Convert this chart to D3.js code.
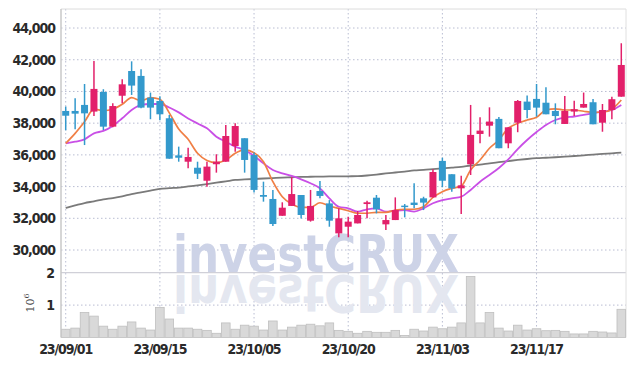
<!DOCTYPE html>
<html><head><meta charset="utf-8">
<script src="https://cdn.jsdelivr.net/npm/d3@7"></script>
<style>body{margin:0;background:#fff}svg{display:block}</style>
</head><body><svg id="c" width="634" height="366"></svg>
<script>
const dates = ["23/09/01","23/09/04","23/09/05","23/09/06","23/09/07","23/09/08","23/09/11","23/09/12","23/09/13","23/09/14",
"23/09/15","23/09/18","23/09/19","23/09/20","23/09/21","23/09/22","23/09/25","23/09/26","23/09/27","23/10/04",
"23/10/05","23/10/06","23/10/10","23/10/11","23/10/12","23/10/13","23/10/16","23/10/17","23/10/18","23/10/19",
"23/10/20","23/10/23","23/10/24","23/10/25","23/10/26","23/10/27","23/10/30","23/10/31","23/11/01","23/11/02",
"23/11/03","23/11/06","23/11/07","23/11/08","23/11/09","23/11/10","23/11/13","23/11/14","23/11/15","23/11/16",
"23/11/17","23/11/20","23/11/21","23/11/22","23/11/23","23/11/24","23/11/27","23/11/28","23/11/29","23/11/30"];
const open  = [38770,38770,39150,38730,39970,37780,39730,41290,40980,39610,39400,38310,35970,35570,35190,34370,35410,35570,36560,37050,
35990,33470,33220,32160,32780,33470,31850,33720,32940,31050,31470,31680,32900,33300,31620,31890,32800,32990,33260,33320,
35620,34780,33890,35410,37320,37840,38270,36730,38030,39360,39530,39290,38770,37950,38730,38980,39320,38030,38830,39670];
const high  = [39050,39570,40470,41920,40140,39250,40770,41900,41400,39930,39700,38520,36520,36450,35570,35570,36040,37890,37990,37050,
36150,34310,33790,33010,34600,33470,33790,34350,33150,32640,32100,32460,33110,33470,32210,33320,32900,34210,33360,35090,
35820,34780,34690,39150,38370,39000,38390,37740,39460,39740,40470,40270,39250,39720,39420,39930,39530,39210,39670,43040];
const low   = [37550,37620,36620,38450,37570,37740,39250,39780,38940,38250,38180,35760,35570,35150,34480,33990,34880,35570,36200,34880,
33620,33050,31510,32160,32780,31990,31790,33260,31470,30800,30800,31680,32000,32310,31260,31890,32060,32630,32520,33320,
33960,33680,32270,34730,36730,37150,36420,36420,37430,38310,38410,38560,37930,37950,38450,38980,37930,37460,38250,39670];
const close = [38470,38600,38620,40160,37780,39080,40450,40370,38980,38980,38560,35760,35820,35870,34810,35260,35570,37190,37820,35680,
33790,33360,31640,32670,33530,32210,32780,33410,31850,32000,31790,32210,33010,32570,31890,32520,32710,32840,32990,34920,
34370,33890,34080,37260,37530,38100,36420,37740,39400,38830,38980,38560,38450,38770,38880,39210,37930,38830,39510,41670];
const volume = [255000,290000,770000,660000,350000,255000,350000,480000,290000,230000,925000,570000,290000,290000,255000,220000,130000,450000,255000,380000,
350000,230000,510000,230000,320000,380000,410000,360000,450000,220000,190000,130000,190000,160000,160000,220000,64000,255000,200000,320000,
270000,320000,450000,1880000,450000,770000,290000,200000,380000,230000,270000,210000,220000,190000,110000,110000,190000,170000,140000,870000];
const ma5  = [36730,37360,38090,38880,38790,38880,39190,39610,39420,39610,39510,38650,37630,36980,36100,35650,35510,35680,36100,36310,
36140,35570,34310,33360,32900,32690,32690,32980,32780,32630,32480,32320,32320,32380,32380,32520,32570,32570,32730,33320,
33680,33890,34040,35050,35680,36420,36940,37680,37990,38200,38370,38830,38900,38830,38830,38750,38690,38690,38880,39460];
const ma20 = [36730,36830,36980,37360,37510,37820,38310,38830,39150,39210,39210,38990,38680,38300,37980,37680,37150,36830,36520,36310,
35930,35470,35050,34840,34670,34460,34210,33890,33260,32730,32630,32420,32570,32630,32420,32480,32520,32420,32630,32950,
33150,33260,33360,33790,34310,34730,35170,35710,36370,36940,37440,37890,38200,38360,38420,38520,38620,38730,38830,39150];
const ma60 = [32650,32810,32965,33070,33190,33280,33390,33530,33640,33750,33850,33900,33940,34010,34080,34160,34250,34330,34420,34450,
34480,34510,34540,34570,34590,34610,34620,34630,34640,34640,34650,34660,34700,34760,34830,34890,34950,35020,35050,35100,
35150,35200,35250,35330,35390,35470,35540,35610,35680,35740,35790,35820,35850,35890,35930,35970,36020,36060,36100,36140];
const priceTicks = [30000,32000,34000,36000,38000,40000,42000,44000];
const volTicks = [1000000,2000000];
const xTickLabels = ["23/09/01","23/09/15","23/10/05","23/10/20","23/11/03","23/11/17"];

const svg = d3.select("#c");
const L = 61, R = 626, T = 9, PB = 272.7, VB = 337.5;
const x = d3.scaleBand().domain(dates).range([L, R]).padding(0);
const bw = x.bandwidth();
const cx = d => x(d) + bw / 2;
const yP = d3.scaleLinear().domain([28570, 45200]).range([PB, T]);
const yV = d3.scaleLinear().domain([0, 2000000]).range([VB, PB]);
const RED = "#e2206a", BLUE = "#3399cc";
const gridCol = "#b9bdd2";
const axisFont = "'DejaVu Sans Condensed','DejaVu Sans',sans-serif";

// gridlines
svg.append("g").selectAll("line").data(priceTicks).join("line")
  .attr("x1", L).attr("x2", R).attr("y1", d => yP(d)).attr("y2", d => yP(d))
  .attr("stroke", gridCol).attr("stroke-width", 1).attr("stroke-dasharray", "1.5,2.5");
svg.append("g").selectAll("line").data([1000000]).join("line")
  .attr("x1", L).attr("x2", R).attr("y1", d => yV(d)).attr("y2", d => yV(d))
  .attr("stroke", gridCol).attr("stroke-width", 1).attr("stroke-dasharray", "1.5,2.5");
svg.append("g").selectAll("line").data(xTickLabels).join("line")
  .attr("x1", d => cx(d)).attr("x2", d => cx(d)).attr("y1", T).attr("y2", VB)
  .attr("stroke", gridCol).attr("stroke-width", 1).attr("stroke-dasharray", "1.5,2.5");

// watermark + reflection
const wmBase = 271.5;
svg.append("text").attr("x", 173).attr("y", wmBase)
  .attr("font-family", axisFont).attr("font-weight", "bold").attr("font-size", 52)
  .attr("textLength", 286).attr("lengthAdjust", "spacingAndGlyphs")
  .attr("fill", "#e4e7f0")
  .attr("transform", `translate(0,${2 * wmBase + 3}) scale(1,-1)`)
  .text("investCRUX");
svg.append("text").attr("x", 173).attr("y", wmBase)
  .attr("font-family", axisFont).attr("font-weight", "bold").attr("font-size", 52)
  .attr("textLength", 286).attr("lengthAdjust", "spacingAndGlyphs")
  .attr("fill", "#cdd3e7")
  .text("investCRUX");

// panel separators / frame
svg.append("line").attr("x1", L).attr("x2", R).attr("y1", PB).attr("y2", PB).attr("stroke", "#d0d0d8").attr("stroke-width", 1.2);
svg.append("line").attr("x1", L).attr("x2", R).attr("y1", T).attr("y2", T).attr("stroke", "#dcdcdc").attr("stroke-width", 1);
svg.append("line").attr("x1", R).attr("x2", R).attr("y1", T).attr("y2", VB).attr("stroke", "#e0e0e0").attr("stroke-width", 1);

// volume bars
svg.append("g").selectAll("rect").data(dates).join("rect")
  .attr("x", d => x(d) + 0.4).attr("width", bw - 0.8)
  .attr("y", (d, i) => yV(volume[i])).attr("height", (d, i) => VB - yV(volume[i]))
  .attr("fill", "#d9d9d9").attr("stroke", "#bfbfbf").attr("stroke-width", 0.8);

// moving averages
const lineGen = arr => d3.line().x((d, i) => cx(dates[i])).y(d => yP(d)).curve(d3.curveMonotoneX)(arr);
svg.append("path").attr("d", lineGen(ma60)).attr("fill", "none").attr("stroke", "#7a7a7a").attr("stroke-width", 1.8);
svg.append("path").attr("d", lineGen(ma20)).attr("fill", "none").attr("stroke", "#c94fe6").attr("stroke-width", 1.8);
svg.append("path").attr("d", lineGen(ma5)).attr("fill", "none").attr("stroke", "#f07f45").attr("stroke-width", 1.7);

// candles
const cg = svg.append("g");
const col = i => close[i] >= open[i] ? RED : BLUE;
cg.selectAll("line").data(dates).join("line")
  .attr("x1", d => cx(d)).attr("x2", d => cx(d))
  .attr("y1", (d, i) => yP(high[i])).attr("y2", (d, i) => yP(low[i]))
  .attr("stroke", (d, i) => col(i)).attr("stroke-width", 1.5);
const bodyW = 7;
cg.selectAll("rect").data(dates).join("rect")
  .attr("x", d => cx(d) - bodyW / 2).attr("width", bodyW)
  .attr("y", (d, i) => yP(Math.max(open[i], close[i])))
  .attr("height", (d, i) => Math.max(1.5, Math.abs(yP(open[i]) - yP(close[i]))))
  .attr("fill", (d, i) => col(i));

// left axis line & bottom line
svg.append("line").attr("x1", L).attr("x2", L).attr("y1", T).attr("y2", VB).attr("stroke", "#c8c8c8").attr("stroke-width", 1.5);
svg.append("line").attr("x1", L).attr("x2", R).attr("y1", VB).attr("y2", VB).attr("stroke", "#c8c8c8").attr("stroke-width", 1);

// axis labels
const fmt = d3.format(",");
svg.append("g").selectAll("text").data(priceTicks).join("text")
  .attr("x", 55).attr("y", d => yP(d)).attr("dy", "0.36em").attr("text-anchor", "end")
  .attr("font-family", axisFont).attr("font-weight", "bold").attr("font-size", 14).attr("letter-spacing", "-1")
  .attr("fill", "#2a2a2a").text(d => fmt(d));
svg.append("g").selectAll("text").data(volTicks).join("text")
  .attr("x", 55).attr("y", d => yV(d)).attr("dy", "0.36em").attr("text-anchor", "end")
  .attr("font-family", axisFont).attr("font-weight", "bold").attr("font-size", 14)
  .attr("fill", "#2a2a2a").text(d => d / 1000000);
svg.append("g").selectAll("text").data(xTickLabels).join("text")
  .attr("x", d => cx(d)).attr("y", 354).attr("text-anchor", "middle")
  .attr("font-family", axisFont).attr("font-weight", "bold").attr("font-size", 14).attr("letter-spacing", "-1.1")
  .attr("fill", "#2a2a2a").text(d => d);
const ul = svg.append("text").attr("transform", "translate(34,303) rotate(-90)")
  .attr("font-family", "'DejaVu Serif',serif").attr("font-size", 11).attr("fill", "#444").attr("text-anchor", "middle");
ul.append("tspan").text("10");
ul.append("tspan").attr("dy", -5).attr("font-size", 8).text("6");
</script></body></html>
